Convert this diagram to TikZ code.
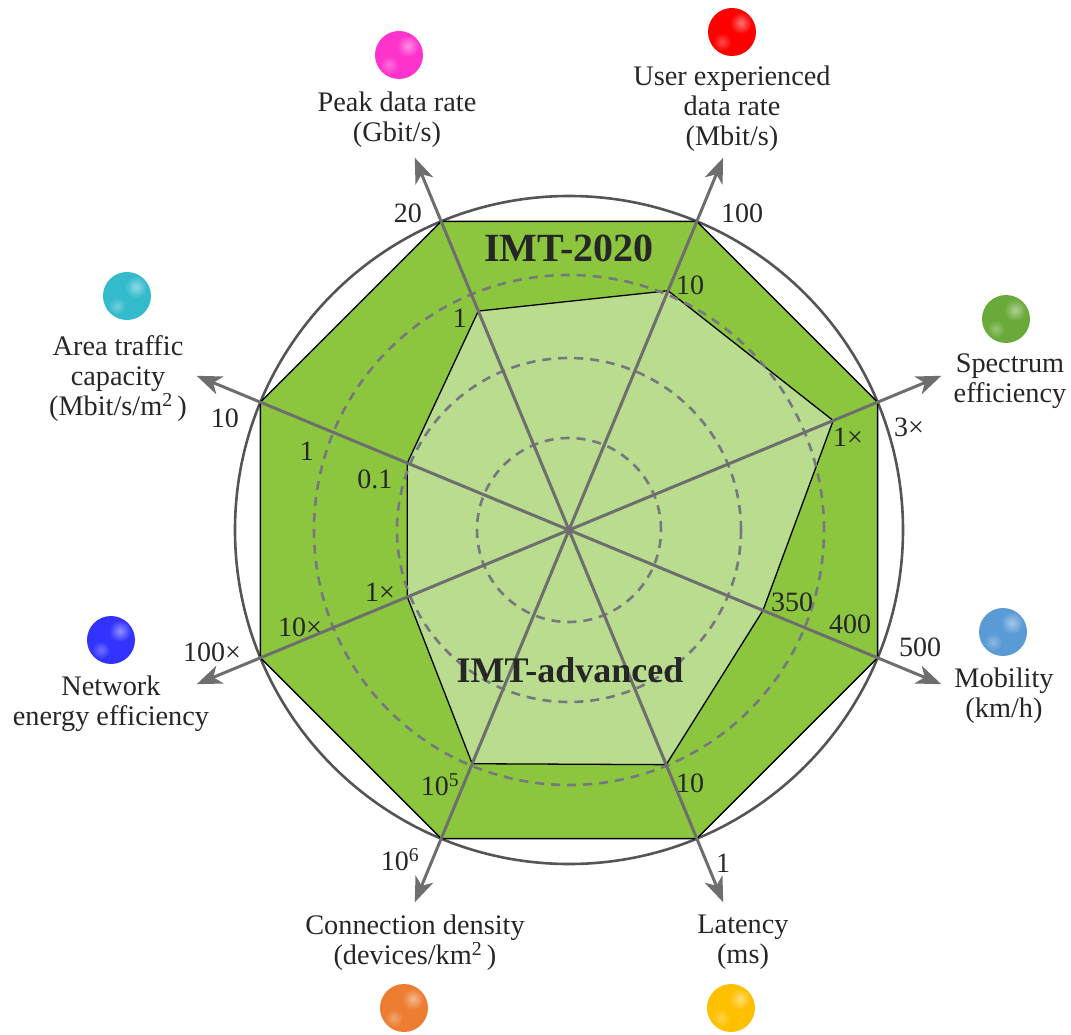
\documentclass[tikz,border=0pt]{standalone}
\usepackage{fontspec}
\setmainfont{Liberation Serif}
\usetikzlibrary{arrows.meta}

\definecolor{outergreen}{HTML}{8CC63F}
\definecolor{innergreen}{HTML}{B9DC8F}
\definecolor{axisgray}{HTML}{6E6E6E}
\definecolor{dashgray}{HTML}{77777F}
\definecolor{ringgray}{HTML}{555555}
\definecolor{ink}{HTML}{262626}
\definecolor{cPeak}{HTML}{FF33CC}
\definecolor{cUser}{HTML}{FF0000}
\definecolor{cArea}{HTML}{33BBCC}
\definecolor{cSpec}{HTML}{6AAA3A}
\definecolor{cEnergy}{HTML}{3333FF}
\definecolor{cMob}{HTML}{5B9BD5}
\definecolor{cConn}{HTML}{ED7D31}
\definecolor{cLat}{HTML}{FFC000}

% glossy ball: position, colour
\newcommand\glossball[2]{%
  \begin{scope}[shift={(#1)}]
    \fill[#2] (0,0) circle (24);
    \shade[inner color=white!45!#2, outer color=#2] (9,9) circle (11);
    \shade[inner color=white!30!#2, outer color=#2] (-10,-10) circle (9);
  \end{scope}}

\begin{document}
\begin{tikzpicture}[x=1pt,y=1pt,
  axis/.style={axisgray, line width=3pt,
    {Stealth[length=25pt,width=19pt,inset=7pt]}-{Stealth[length=25pt,width=19pt,inset=7pt]}},
  gridring/.style={dashgray, line width=2.6pt, dash pattern=on 9pt off 7pt},
  caption/.style={font=\fontsize{28.3}{30}\selectfont, text=ink, align=center, inner sep=0pt},
  val/.style={font=\fontsize{28}{30}\selectfont, text=ink, inner sep=0pt},
  title/.style={font=\fontsize{40}{44}\selectfont\bfseries, text=ink, inner sep=0pt},
]
\useasboundingbox (-569,-504) rectangle (502,530);
\coordinate (O) at (0,0);

% outer ring
\draw[ringgray, line width=2.6pt] (O) circle (334);

% IMT-2020 octagon
\draw[fill=outergreen, line width=1.5pt]
  (22.5:334) -- (67.5:334) -- (112.5:334) -- (157.5:334) --
  (202.5:334) -- (247.5:334) -- (292.5:334) -- (337.5:334) -- cycle;

% IMT-advanced polygon
\draw[fill=innergreen, line width=1.3pt]
  (22.5:286) -- (67.5:259) -- (112.5:237) -- (157.5:175) --
  (202.5:175) -- (247.5:253) -- (292.5:254) -- (337.5:210) -- cycle;

% dashed grid rings
\foreach \r in {92,172,255} \draw[gridring] (O) circle (\r);

% axes
\foreach \a/\n in {22.5/spec,67.5/user,112.5/peak,157.5/area,202.5/energy,247.5/conn,292.5/lat,337.5/mob}
  \coordinate (tip-\n) at (\a:403);
\draw[axis] (tip-energy) -- (tip-spec);
\draw[axis] (tip-conn) -- (tip-user);
\draw[axis] (tip-lat) -- (tip-peak);
\draw[axis] (tip-mob) -- (tip-area);

% titles
\node[title] (t2020) at (0,282) {IMT-2020};
\node[title, font=\fontsize{36}{40}\selectfont\bfseries] (tadv) at (1,-140) {IMT-advanced};

% scale values
\node[val] (v-peak-o) at (-161,317) {20};
\node[val] (v-peak-i) at (-109,212) {1};
\node[val] (v-user-o) at (173,317) {100};
\node[val] (v-user-i) at (121,245) {10};
\node[val] (v-spec-o) at (340,103) {3×};
\node[val] (v-spec-i) at (279,93) {1×};
\node[val] (v-area-o) at (-344,112) {10};
\node[val] (v-area-m) at (-262,79) {1};
\node[val] (v-area-i) at (-194,51) {0.1};
\node[val] (v-energy-i) at (-189,-62) {1×};
\node[val] (v-energy-m) at (-269,-97) {10×};
\node[val] (v-energy-o) at (-357,-122) {100×};
\node[val] (v-mob-i) at (223,-72) {350};
\node[val] (v-mob-m) at (281,-94) {400};
\node[val] (v-mob-o) at (351,-117) {500};
\node[val] (v-lat-i) at (121,-253) {10};
\node[val] (v-lat-o) at (154,-333) {1};
\node[val] (v-conn-i) at (-129,-255) {10\textsuperscript{5}};
\node[val] (v-conn-o) at (-169,-330) {10\textsuperscript{6}};

% metric captions
\node[caption] (l-peak) at (-172,410.5) {Peak data rate\\(Gbit/s)};
\node[caption] (l-user) at (163,421.5) {User experienced\\data rate\\(Mbit/s)};
\node[caption] (l-area) at (-451,151.5) {Area traffic\\capacity\\(Mbit/s/m\textsuperscript{2}\,)};
\node[caption] (l-spec) at (441,149) {Spectrum\\efficiency};
\node[caption] (l-energy) at (-458,-173.5) {Network\\energy efficiency};
\node[caption] (l-mob) at (435,-166) {Mobility\\(km/h)};
\node[caption] (l-conn) at (-154,-412.5) {Connection density\\(devices/km\textsuperscript{2}\,)};
\node[caption] (l-lat) at (174,-412.5) {Latency\\(ms)};

% balls
\glossball{-170,475}{cPeak}
\glossball{163,498}{cUser}
\glossball{-442,234}{cArea}
\glossball{437,211}{cSpec}
\glossball{-458,-110}{cEnergy}
\glossball{434,-102}{cMob}
\glossball{-165,-478}{cConn}
\glossball{162,-478}{cLat}
\end{tikzpicture}
\end{document}
